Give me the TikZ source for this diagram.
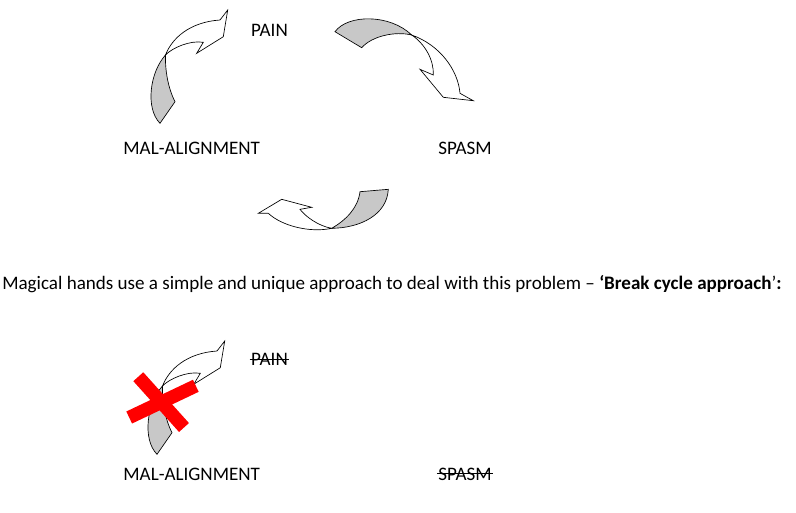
\documentclass[tikz,border=0pt]{standalone}
\usepackage{fontspec}
\setmainfont{Carlito}
\tikzset{
  band/.style={draw=black, line width=0.5pt, line join=miter},
  backside/.style={band, fill=bandgray},
  frontside/.style={band, fill=white},
  lbl/.style={anchor=base, inner sep=0pt, font=\fontsize{14.3pt}{17pt}\selectfont},
  strike/.style={line width=0.7pt},
  crossbar/.style={line width=10pt, draw=crossred},
  arrowA/.pic={
    \path[backside] (165.5,55) .. controls (150,72) and (145,108) .. (160,123.3)
      -- (175,101.7) .. controls (168,88) and (165,70) .. cycle;
    \path[frontside] (165.5,55) .. controls (172,38) and (190,22) .. (220,20)
      -- (227.7,10) -- (223.3,36.7) -- (196.7,53.3) -- (203.3,42.3)
      .. controls (190,40) and (172,48) .. cycle;
  }
}
\definecolor{bandgray}{RGB}{200,200,200}
\definecolor{crossred}{RGB}{255,0,0}
\begin{document}
\begin{tikzpicture}[x=0.75pt, y=-0.75pt]
\path[use as bounding box] (0,0) rectangle (796,512);

% top cycle
\pic at (0,0) {arrowA};

% arrow 2 (PAIN -> SPASM)
\path[backside] (335,31.7) .. controls (348,14) and (390,14) .. (411.7,35)
  .. controls (395,31) and (372,36) .. (361.7,47.7) -- cycle;
\path[frontside] (411.7,35) .. controls (425,44) and (434,60) .. (433.3,75)
  -- (420,69.3) -- (443.3,97.3) -- (473.3,100.7) -- (460,93.3)
  .. controls (458,70) and (440,45) .. cycle;

% arrow 3 (SPASM -> MAL-ALIGNMENT)
\path[backside] (360,191.7) .. controls (358,208) and (346,220) .. (331.7,228.3)
  .. controls (360,228) and (387,215) .. (388.3,189.3) -- cycle;
\path[frontside] (331.7,228.3) .. controls (318,226) and (305,216) .. (300,209.3)
  -- (311.7,207.3) -- (281.7,199.3) -- (258.3,213.3) -- (268.3,213.3)
  .. controls (282,226) and (310,233) .. cycle;

\node[lbl] (pain) at (269.5,36.7) {PAIN};
\node[lbl] (mal) at (191.7,154) {MAL-ALIGNMENT};
\node[lbl] (spasm) at (465,154) {SPASM};

\node[lbl, anchor=base west] (para) at (2,289)
  {Magical hands use a simple and unique approach to deal with this problem – \textbf{‘Break cycle approach}’\textbf{:}};

% broken cycle
\pic at (-3,331) {arrowA};
\draw[crossbar] (138.3,376.7) -- (184,427.5);
\draw[crossbar] (129.2,417.5) -- (195.8,385.8);

\node[lbl] (pain2) at (269.5,365.7) {PAIN};
\node[lbl] (mal2) at (191.7,480) {MAL-ALIGNMENT};
\node[lbl] (spasm2) at (465,480) {SPASM};
\draw[strike] ([yshift=4.8pt,xshift=-1pt]pain2.base west) -- ([yshift=4.8pt,xshift=1pt]pain2.base east);
\draw[strike] ([yshift=4.8pt,xshift=-1pt]spasm2.base west) -- ([yshift=4.8pt,xshift=1pt]spasm2.base east);
\end{tikzpicture}
\end{document}
